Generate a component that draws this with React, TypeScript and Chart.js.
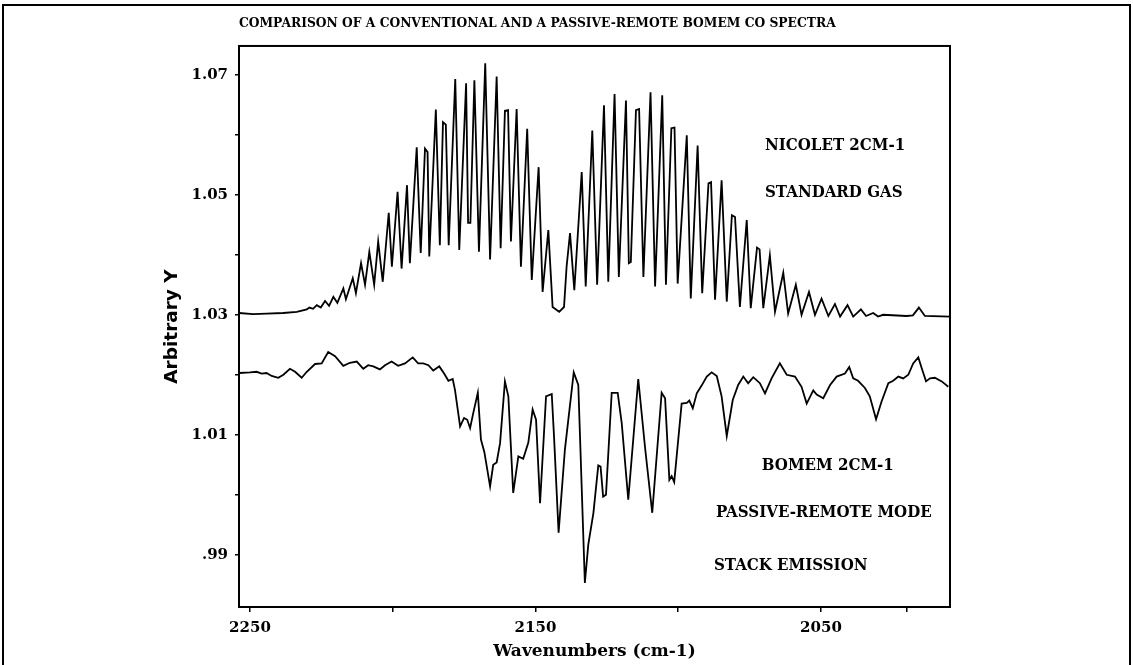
import React, { useEffect, useRef } from 'react';
import { Chart, registerables } from 'chart.js';

Chart.register(...registerables);

// NICOLET 2CM-1 standard gas spectrum (wavenumber, value)
const nicoletWn = [
  2253.85, 2248.9, 2244.2, 2238.4, 2233.6, 2230.1, 2229.2, 2227.9, 2226.6, 2225.2,
  2223.7, 2222.3, 2220.8, 2219.4, 2217.3, 2216.4, 2214.0, 2212.9, 2211.1, 2209.7,
  2208.2, 2206.5, 2205.1, 2203.5, 2201.4, 2200.3, 2198.3, 2196.9, 2195.0, 2194.0,
  2191.6, 2190.2, 2188.7, 2187.8, 2187.2, 2184.9, 2183.5, 2182.4, 2181.4, 2180.4,
  2178.1, 2176.7, 2174.3, 2173.6, 2172.8, 2171.4, 2169.8, 2167.6, 2165.9, 2163.6,
  2162.2, 2160.7, 2159.6, 2158.6, 2156.6, 2155.1, 2152.9, 2151.3, 2148.9, 2147.5,
  2145.5, 2144.0, 2141.7, 2140.0, 2139.1, 2137.9, 2136.4, 2133.8, 2132.4, 2130.1,
  2128.4, 2126.0, 2124.5, 2122.3, 2120.8, 2118.3, 2117.3, 2116.6, 2114.8, 2113.7,
  2112.2, 2109.7, 2108.1, 2105.6, 2104.3, 2102.4, 2101.3, 2100.2, 2097.0, 2095.6,
  2093.2, 2091.6, 2089.4, 2088.5, 2087.1, 2084.8, 2083.0, 2081.2, 2080.1, 2078.4,
  2076.0, 2074.6, 2072.4, 2071.5, 2070.2, 2067.9, 2066.1, 2063.2, 2061.5, 2058.8,
  2056.8, 2054.2, 2052.1, 2049.8, 2047.4, 2045.1, 2043.3, 2040.7, 2038.7, 2036.0,
  2034.2, 2031.7, 2030.0, 2028.2, 2020.0, 2017.8, 2015.7, 2013.6, 2004.8,
];
const nicoletY = [
  1.0303, 1.0301, 1.0302, 1.0303, 1.0305, 1.0309, 1.0312, 1.0310, 1.0316, 1.0312,
  1.0323, 1.0315, 1.0330, 1.0320, 1.0344, 1.0326, 1.0361, 1.0336, 1.0386, 1.0350,
  1.0405, 1.0350, 1.0422, 1.0355, 1.0470, 1.0380, 1.0505, 1.0377, 1.0516, 1.0386,
  1.0579, 1.0403, 1.0577, 1.0571, 1.0397, 1.0642, 1.0416, 1.0621, 1.0617, 1.0416,
  1.0693, 1.0408, 1.0686, 1.0453, 1.0453, 1.0691, 1.0405, 1.0719, 1.0392, 1.0697,
  1.0411, 1.0640, 1.0641, 1.0422, 1.0643, 1.0380, 1.0610, 1.0358, 1.0546, 1.0338,
  1.0441, 1.0313, 1.0305, 1.0313, 1.0380, 1.0436, 1.0341, 1.0538, 1.0347, 1.0607,
  1.0350, 1.0649, 1.0355, 1.0668, 1.0363, 1.0657, 1.0386, 1.0388, 1.0641, 1.0643,
  1.0363, 1.0671, 1.0347, 1.0666, 1.0350, 1.0611, 1.0612, 1.0352, 1.0599, 1.0327,
  1.0582, 1.0336, 1.0519, 1.0521, 1.0325, 1.0524, 1.0322, 1.0466, 1.0463, 1.0313,
  1.0458, 1.0311, 1.0412, 1.0409, 1.0311, 1.0399, 1.0305, 1.0370, 1.0302, 1.0350,
  1.0300, 1.0338, 1.0300, 1.0327, 1.0298, 1.0318, 1.0297, 1.0316, 1.0297, 1.0309,
  1.0298, 1.0303, 1.0297, 1.0300, 1.0298, 1.0299, 1.0312, 1.0298, 1.0297,
];

// BOMEM 2CM-1 passive-remote stack emission spectrum (wavenumber, value)
const bomemWn = [
  2253.7, 2250.0, 2247.7, 2245.9, 2244.2, 2242.4, 2240.1, 2238.3, 2236.0, 2234.2,
  2231.9, 2230.1, 2227.2, 2224.9, 2222.6, 2220.2, 2217.3, 2215.0, 2212.6, 2210.3,
  2208.6, 2206.8, 2204.5, 2202.7, 2200.4, 2198.1, 2195.7, 2193.0, 2191.1, 2189.3,
  2187.5, 2185.8, 2183.7, 2182.0, 2180.5, 2179.0, 2178.2, 2176.4, 2175.0, 2173.9,
  2172.9, 2171.8, 2170.2, 2169.1, 2167.9, 2165.9, 2164.8, 2163.6, 2162.4, 2160.7,
  2159.5, 2157.8, 2156.0, 2154.3, 2152.5, 2151.0, 2149.8, 2148.4, 2146.3, 2144.3,
  2143.5, 2141.9, 2139.7, 2136.6, 2135.0, 2132.7, 2131.5, 2129.7, 2128.0, 2127.2,
  2126.3, 2125.3, 2123.3, 2121.2, 2119.8, 2117.5, 2114.0, 2111.6, 2109.1, 2105.8,
  2104.6, 2103.1, 2102.3, 2101.4, 2098.8, 2097.0, 2096.1, 2094.9, 2093.5, 2091.8,
  2090.0, 2088.3, 2086.5, 2084.8, 2083.0, 2080.9, 2079.0, 2077.2, 2075.5, 2073.7,
  2071.4, 2069.6, 2067.3, 2064.4, 2062.0, 2059.1, 2056.8, 2055.0, 2052.7, 2051.5,
  2049.2, 2046.8, 2044.5, 2041.6, 2040.1, 2038.7, 2037.0, 2034.6, 2032.9, 2030.7,
  2028.8, 2026.4, 2024.7, 2022.9, 2021.2, 2019.4, 2017.7, 2015.9, 2014.7, 2013.2,
  2011.8, 2010.1, 2007.7, 2005.4,
];
const bomemY = [
  1.0203, 1.0204, 1.0205, 1.0202, 1.0203, 1.0198, 1.0195, 1.0200, 1.0210, 1.0205,
  1.0195, 1.0205, 1.0218, 1.0219, 1.0238, 1.0231, 1.0215, 1.0220, 1.0222, 1.0210,
  1.0216, 1.0214, 1.0209, 1.0216, 1.0222, 1.0215, 1.0219, 1.0229, 1.0219, 1.0219,
  1.0216, 1.0207, 1.0214, 1.0202, 1.0190, 1.0193, 1.0175, 1.0114, 1.0128, 1.0125,
  1.0111, 1.0136, 1.0170, 1.0092, 1.0071, 1.0014, 1.0050, 1.0054, 1.0086, 1.0189,
  1.0164, 1.0003, 1.0064, 1.0060, 1.0087, 1.0142, 1.0125, 0.9986, 1.0164, 1.0168,
  1.0097, 0.9937, 1.0075, 1.0204, 1.0183, 0.9853, 0.9917, 0.9970, 1.0049, 1.0047,
  0.9997, 1.0000, 1.0170, 1.0170, 1.0120, 0.9992, 1.0193, 1.0078, 0.9970, 1.0170,
  1.0161, 1.0025, 1.0031, 1.0021, 1.0152, 1.0153, 1.0157, 1.0144, 1.0169, 1.0182,
  1.0197, 1.0204, 1.0198, 1.0164, 1.0098, 1.0158, 1.0183, 1.0197, 1.0186, 1.0196,
  1.0186, 1.0169, 1.0194, 1.0219, 1.0200, 1.0197, 1.0180, 1.0152, 1.0174, 1.0167,
  1.0161, 1.0183, 1.0197, 1.0202, 1.0213, 1.0194, 1.0190, 1.0178, 1.0164, 1.0126,
  1.0155, 1.0186, 1.0190, 1.0197, 1.0194, 1.0200, 1.0219, 1.0229, 1.0211, 1.0189,
  1.0194, 1.0195, 1.0189, 1.0180,
];

const xMin = 2004.8;
const xMax = 2253.85;
const yMin = 0.9813;
const yMax = 1.0748;

const xTickValues = [2250, 2200, 2150, 2100, 2050, 2020];
const xTickLabels = ['2250', '', '2150', '', '2050', ''];
const yTickValues = [0.99, 1.0, 1.01, 1.02, 1.03, 1.04, 1.05, 1.06, 1.07];
const yTickLabels = ['.99', '', '1.01', '', '1.03', '', '1.05', '', '1.07'];

const titleText = 'COMPARISON OF A CONVENTIONAL AND A PASSIVE-REMOTE BOMEM CO SPECTRA';
const xTitle = 'Wavenumbers (cm-1)';
const yTitle = 'Arbitrary Y';

const noteTexts = ['NICOLET 2CM-1', 'STANDARD GAS', 'BOMEM 2CM-1', 'PASSIVE-REMOTE MODE', 'STACK EMISSION'];
const noteWn = [2069.6, 2069.6, 2070.7, 2086.8, 2087.5];
const noteY = [1.0582, 1.0503, 1.0048, 0.997, 0.9882];

const W = 1133;
const H = 665;

function labelFor(values: number[], labels: string[], v: number): string {
  const i = values.findIndex((t) => Math.abs(t - v) < 1e-9);
  return i >= 0 ? labels[i] : '';
}

const framePlugin = {
  id: 'frame',
  beforeDraw(chart: any) {
    const ctx = chart.ctx;
    ctx.save();
    ctx.fillStyle = '#ffffff';
    ctx.fillRect(0, 0, chart.width, chart.height);
    ctx.strokeStyle = '#000';
    ctx.lineWidth = 2;
    ctx.strokeRect(3, 5, 1127, 700);
    ctx.restore();
  },
  afterDraw(chart: any) {
    const { ctx, chartArea } = chart;
    ctx.save();
    ctx.strokeStyle = '#000';
    ctx.lineWidth = 2;
    ctx.strokeRect(chartArea.left, chartArea.top, chartArea.right - chartArea.left, chartArea.bottom - chartArea.top);
    ctx.restore();
  },
};

const notesPlugin = {
  id: 'notes',
  afterDatasetsDraw(chart: any) {
    const { ctx, scales } = chart;
    noteTexts.forEach((t, i) => {
      ctx.save();
      ctx.fillStyle = '#000';
      ctx.font = 'bold 16px "DejaVu Serif"';
      ctx.textAlign = 'left';
      ctx.textBaseline = 'middle';
      ctx.translate(scales.x.getPixelForValue(noteWn[i]), scales.y.getPixelForValue(noteY[i]));
      ctx.scale(0.94, 1);
      ctx.fillText(t, 0, 0);
      ctx.restore();
    });
  },
};

export default function App() {
  const ref = useRef<HTMLCanvasElement | null>(null);

  useEffect(() => {
    if (!ref.current) return;
    Chart.defaults.font.family = '"DejaVu Serif"';
    Chart.defaults.color = '#000';
    const chart = new Chart(ref.current, {
      type: 'line',
      data: {
        datasets: [
          {
            label: 'NICOLET 2CM-1 STANDARD GAS',
            data: nicoletWn.map((x, i) => ({ x, y: nicoletY[i] })),
            borderColor: '#000',
            borderWidth: 1.8,
            pointRadius: 0,
            tension: 0,
            fill: false,
          },
          {
            label: 'BOMEM 2CM-1 PASSIVE-REMOTE MODE STACK EMISSION',
            data: bomemWn.map((x, i) => ({ x, y: bomemY[i] })),
            borderColor: '#000',
            borderWidth: 1.8,
            pointRadius: 0,
            tension: 0,
            fill: false,
          },
        ],
      },
      options: {
        responsive: false,
        animation: false,
        devicePixelRatio: 1,
        layout: { padding: { left: 0, top: 0, right: W - 950, bottom: 0 } },
        plugins: {
          legend: { display: false },
          tooltip: { enabled: false },
          title: {
            display: true,
            text: titleText,
            align: 'start',
            fullSize: false,
            color: '#000',
            font: { family: '"DejaVu Serif"', weight: 'bold', size: 12.3, lineHeight: 1.2 },
            padding: { top: 16.6, bottom: 14.6 },
          },
        },
        scales: {
          x: {
            type: 'linear',
            reverse: true,
            min: xMin,
            max: xMax,
            afterBuildTicks: (scale: any) => {
              scale.ticks = xTickValues.map((v) => ({ value: v }));
            },
            afterFit: (scale: any) => {
              scale.height = 58;
            },
            ticks: {
              autoSkip: false,
              maxRotation: 0,
              padding: 7,
              color: '#000',
              font: { family: '"DejaVu Serif"', weight: 'bold', size: 15, lineHeight: 1.2 },
              callback: (v: any) => labelFor(xTickValues, xTickLabels, Number(v)),
            },
            grid: { drawOnChartArea: false, drawTicks: true, tickLength: 5, color: '#000', lineWidth: 1.5 },
            border: { display: false },
            title: {
              display: true,
              text: xTitle,
              color: '#000',
              font: { family: '"DejaVu Serif"', weight: 'bold', size: 17, lineHeight: 1.2 },
              padding: { top: 0, bottom: 2.8 },
            },
          },
          y: {
            type: 'linear',
            min: yMin,
            max: yMax,
            afterBuildTicks: (scale: any) => {
              scale.ticks = yTickValues.map((v) => ({ value: v }));
            },
            afterFit: (scale: any) => {
              scale.width = 239;
            },
            ticks: {
              autoSkip: false,
              padding: 7,
              color: '#000',
              font: { family: '"DejaVu Serif"', weight: 'bold', size: 15, lineHeight: 1.2 },
              callback: (v: any) => labelFor(yTickValues, yTickLabels, Number(v)),
            },
            grid: { drawOnChartArea: false, drawTicks: true, tickLength: 4, color: '#000', lineWidth: 1.5 },
            border: { display: false },
            title: {
              display: true,
              text: yTitle,
              color: '#000',
              font: { family: '"DejaVu Sans"', weight: 'bold', size: 18.5, lineHeight: 1.2 },
              padding: { top: 160.9, bottom: 0 },
            },
          },
        },
      },
      plugins: [framePlugin, notesPlugin],
    } as any);
    return () => chart.destroy();
  }, []);

  return (
    <div style={{ position: 'fixed', left: 0, top: 0, width: W, height: H, background: '#fff' }}>
      <canvas ref={ref} width={W} height={H} style={{ display: 'block', width: W, height: H }} />
    </div>
  );
}
